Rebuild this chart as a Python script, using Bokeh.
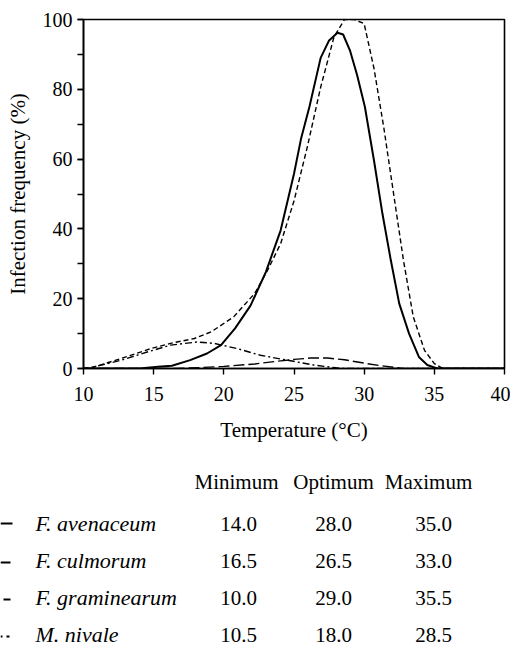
from bokeh.plotting import figure
from bokeh.models import Range1d, SingleIntervalTicker
from bokeh.layouts import column
from bokeh.core.properties import value
from bokeh.embed import file_html
from bokeh.resources import INLINE

# ---- data ----
aven_t = [10, 14, 15.3, 16.3, 17.6, 18.8, 19.8, 20.8, 21.9, 23.0, 24.05, 25.0, 25.5, 26.1, 26.9, 27.5,
          28.1, 28.5, 29.0, 29.5, 30.05, 30.7, 31.3, 31.9, 32.5, 33.2, 33.9, 34.5, 35.2, 40]
aven_y = [0, 0, 0.5, 0.8, 2.4, 4.3, 6.7, 11.5, 18, 27.7, 39.6, 55.8, 65.8, 75, 89, 94,
          96.2, 95.7, 91, 84, 75, 59.6, 44.4, 31, 18.6, 10, 3.3, 1, 0, 0]

gram_t = [10, 10.8, 12.7, 14.8, 16.2, 17.9, 19.1, 20.7, 22.2, 23.1, 24.05, 25.0, 25.95, 26.9, 27.85,
          28.6, 29.3, 30.0, 30.7, 31.4, 32.1, 32.8, 33.5, 34.3, 35.0, 35.6, 40]
gram_y = [0, 0.5, 2.9, 5.7, 7.2, 8.6, 10.5, 14.8, 21.5, 28, 35.8, 48, 63.5, 80.6, 95,
          100, 100, 98.8, 86, 69, 50, 31, 14.8, 5.2, 1.4, 0, 0]

culm_t = [10, 16.5, 18.5, 20.0, 22.2, 24.05, 25.0, 26.2, 27.4, 28.6, 30.2, 31.2, 32.8, 40]
culm_y = [0, 0, 0.3, 0.6, 1.3, 2.2, 2.6, 3.0, 3.0, 2.5, 1.4, 0.8, 0, 0]

niva_t = [10, 10.5, 10.8, 12.7, 14.6, 16.2, 18.1, 19.3, 20.96, 22.6, 24.5, 26.4, 28.0, 28.5, 40]
niva_y = [0, 0, 0.5, 2.4, 4.8, 6.7, 7.6, 7.2, 5.7, 3.8, 2.4, 1.0, 0.2, 0, 0]

species = ["F. avenaceum", "F. culmorum", "F. graminearum", "M. nivale"]
minimum = ["14.0", "16.5", "10.0", "10.5"]
optimum = ["28.0", "26.5", "29.0", "18.0"]
maximum = ["35.0", "33.0", "35.5", "28.5"]
headers = ["Minimum", "Optimum", "Maximum"]

FONT = "Liberation Serif"

# ---- chart ----
p = figure(width=510, height=455, x_range=Range1d(10, 40), y_range=Range1d(0, 100),
           output_backend="svg", toolbar_location=None,
           min_border_left=83, min_border_right=6, min_border_top=19, min_border_bottom=87)
p.frame_align = False
p.grid.visible = False
p.background_fill_color = "white"
p.border_fill_color = "white"
p.outline_line_color = "black"
p.outline_line_width = 1.6

p.line(gram_t, gram_y, line_color="black", line_width=1.4, line_dash="5 3")
p.line(culm_t, culm_y, line_color="black", line_width=1.4, line_dash="11 4")
p.line(niva_t, niva_y, line_color="black", line_width=1.4, line_dash="7 3 2 3")
p.line(aven_t, aven_y, line_color="black", line_width=2.0)

p.xaxis.ticker = SingleIntervalTicker(interval=5, num_minor_ticks=0)
p.yaxis.ticker = SingleIntervalTicker(interval=20, num_minor_ticks=2)
for ax in (p.xaxis[0], p.yaxis[0]):
    ax.axis_line_width = 1.6
    ax.axis_line_color = "black"
    ax.major_tick_in = 0
    ax.major_tick_out = 6
    ax.minor_tick_in = 0
    ax.minor_tick_out = 6
    ax.major_tick_line_width = 1.4
    ax.minor_tick_line_width = 1.4
    ax.major_label_text_font = FONT
    ax.major_label_text_font_size = "20px"
    ax.major_label_text_color = "black"
    ax.axis_label_text_font = FONT
    ax.axis_label_text_font_size = "21px"
    ax.axis_label_text_font_style = "normal"
    ax.axis_label_text_color = "black"
p.xaxis.axis_label = "Temperature (°C)"
p.yaxis.axis_label = "Infection frequency (%)"
p.xaxis.major_label_standoff = 12
p.xaxis.axis_label_standoff = 14
p.yaxis.major_label_standoff = 5
p.yaxis.axis_label_standoff = 10

# ---- table (page-pixel coordinates) ----
t = figure(width=510, height=205, x_range=Range1d(0, 510), y_range=Range1d(660, 455),
           output_backend="svg", toolbar_location=None, x_axis_type=None, y_axis_type=None,
           min_border=0)
t.frame_align = False
t.grid.visible = False
t.outline_line_color = None
t.background_fill_color = "white"
t.border_fill_color = "white"

row_y = [523, 560, 597, 634]
header_y = 481
name_x = 35
col_x = [238, 333, 433]
head_x = [236, 333, 428]

t.text(x=head_x, y=[header_y] * 3, text=headers, text_align="center", text_baseline="middle",
       text_font=value(FONT), text_font_size="21px", text_color="black")
t.text(x=[name_x] * 4, y=row_y, text=species, text_align="left", text_baseline="middle",
       text_font=value(FONT), text_font_size="22px", text_font_style="italic", text_color="black")
for cx, vals in zip(col_x, [minimum, optimum, maximum]):
    t.text(x=[cx] * 4, y=row_y, text=vals, text_align="center", text_baseline="middle",
           text_font=value(FONT), text_font_size="21px", text_color="black")

# legend samples (cut off at the left edge as in the original)
t.segment(x0=[0], y0=[row_y[0]], x1=[12], y1=[row_y[0]], line_color="black", line_width=2.0)
t.segment(x0=[0], y0=[row_y[1] + 2], x1=[10], y1=[row_y[1] + 2], line_color="black", line_width=2.0)
t.segment(x0=[3], y0=[row_y[2] + 2], x1=[10], y1=[row_y[2] + 2], line_color="black", line_width=2.0)
t.segment(x0=[0, 6], y0=[row_y[3] + 2] * 2, x1=[2, 9], y1=[row_y[3] + 2] * 2, line_color="black", line_width=2.0)

open("out.html", "w").write(file_html(column(p, t), INLINE))
